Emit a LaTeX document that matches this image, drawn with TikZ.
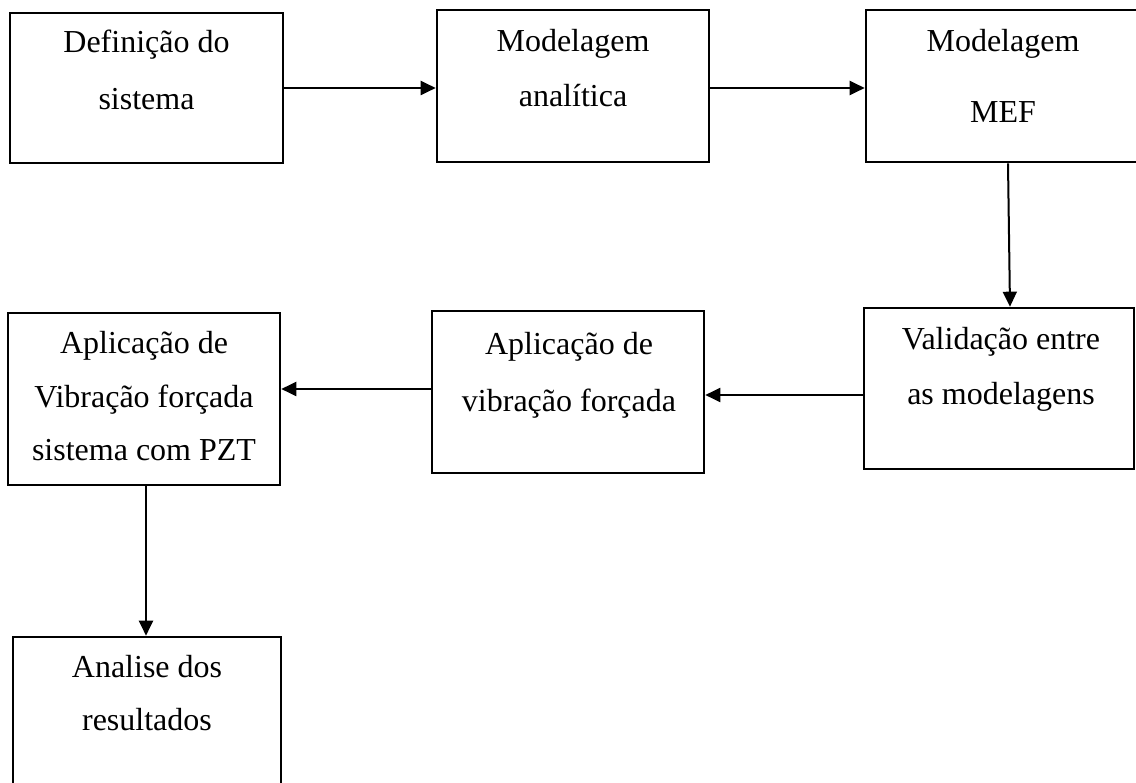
\documentclass[tikz,border=0pt]{standalone}
\usepackage{fontspec}
\setmainfont{Liberation Serif}
\usetikzlibrary{arrows.meta}
\begin{document}
\begin{tikzpicture}[x=1pt,y=-1pt,
  box/.style={draw, line width=2.6pt, rectangle, inner sep=0pt},
  txt/.style={anchor=base, inner sep=0pt, font=\fontsize{32}{38}\selectfont},
  arr/.style={line width=2pt, -{Triangle[length=15pt,width=14pt]}}]
\useasboundingbox (0,0) rectangle (1136,783);
% boxes
\node[box, minimum width=273pt, minimum height=150pt] (b1) at (146.5,88) {};
\node[box, minimum width=272pt, minimum height=152pt] (b2) at (573,86) {};
\node[box, minimum width=274pt, minimum height=152pt] (b3) at (1003,86) {};
\node[box, minimum width=270pt, minimum height=161pt] (b4) at (999,388.5) {};
\node[box, minimum width=272pt, minimum height=162pt] (b5) at (568,392) {};
\node[box, minimum width=272pt, minimum height=172pt] (b6) at (144,399) {};
\node[box, minimum width=268pt, minimum height=163pt] (b7) at (147,718.5) {};
% texts
\node[txt] (t1a) at (146.5,53) {Definição do};
\node[txt] (t1b) at (146.5,110) {sistema};
\node[txt] (t2a) at (573,52) {Modelagem};
\node[txt] (t2b) at (573,107) {analítica};
\node[txt] (t3a) at (1003,52) {Modelagem};
\node[txt] (t3b) at (1003,123) {MEF};
\node[txt] (t4a) at (1001,350) {Validação entre};
\node[txt] (t4b) at (1001,405) {as modelagens};
\node[txt] (t5a) at (569,355) {Aplicação de};
\node[txt] (t5b) at (569,412) {vibração forçada};
\node[txt] (t6a) at (144,354) {Aplicação de};
\node[txt] (t6b) at (144,408) {Vibração forçada};
\node[txt] (t6c) at (144,461) {sistema com PZT};
\node[txt] (t7a) at (147,677) {Analise dos};
\node[txt] (t7b) at (147,730) {resultados};
% arrows
\draw[arr] (b1.east) -- (b1.east -| b2.west);
\draw[arr] (b2.east |- b1.east) -- (b1.east -| b3.west);
\draw[arr] ([xshift=5pt]b3.south) -- ([xshift=11pt]b4.north);
\draw[arr] ([yshift=-6.5pt]b4.west) -- ([yshift=-6.5pt]b4.west -| b5.east);
\draw[arr] ([yshift=3pt]b5.west) -- ([yshift=3pt]b5.west -| b6.east);
\draw[arr] ([xshift=2pt]b6.south) -- ([xshift=2pt]b6.south |- b7.north);
\end{tikzpicture}
\end{document}
